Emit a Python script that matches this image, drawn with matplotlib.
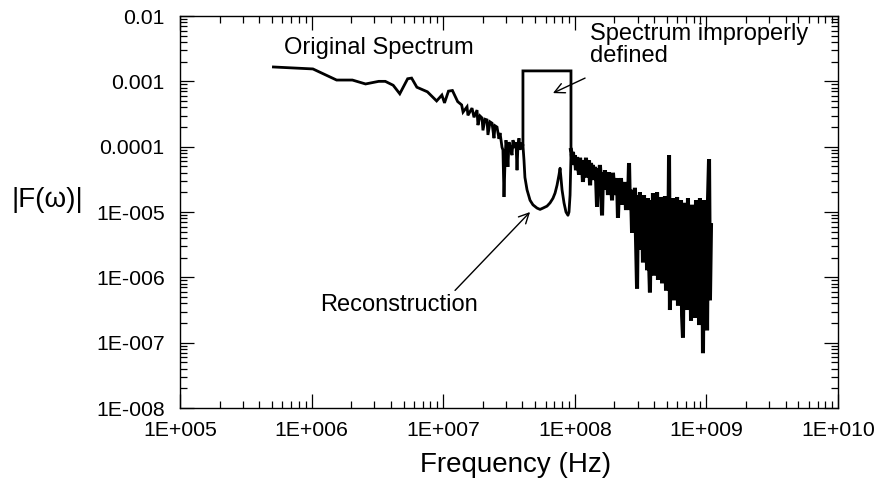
import matplotlib
matplotlib.use("Agg")
import matplotlib.pyplot as plt
import numpy as np

plt.rcParams['font.family'] = ['Liberation Sans', 'DejaVu Sans']

# Values, stored as log10(frequency / Hz) and log10(|F|)

# smooth low-frequency part and the noisy stretch below the band
low_logf = [5.71, 6.01, 6.19, 6.31, 6.41, 6.51, 6.56, 6.62, 6.67, 6.73, 6.76, 6.80,
            6.88, 6.95, 6.99, 7.01, 7.04, 7.07, 7.11, 7.14,
            7.151, 7.181, 7.188, 7.219, 7.234, 7.257, 7.264, 7.280, 7.295, 7.302,
            7.318, 7.333, 7.340, 7.356, 7.371, 7.386, 7.394, 7.409, 7.424, 7.432,
            7.447, 7.454, 7.462, 7.470, 7.477, 7.485, 7.492, 7.500, 7.515, 7.523,
            7.530, 7.546, 7.553, 7.561, 7.568, 7.576, 7.584, 7.591, 7.599, 7.606]
low_logm = [-2.78, -2.81, -2.98, -2.98, -3.04, -3.00, -3.00, -3.06, -3.19, -2.96, -2.95, -3.09,
            -3.16, -3.30, -3.21, -3.33, -3.15, -3.14, -3.31, -3.36,
            -3.47, -3.39, -3.52, -3.41, -3.55, -3.44, -3.67, -3.53, -3.56, -3.75,
            -3.58, -3.59, -3.82, -3.62, -3.64, -3.87, -3.68, -3.70, -3.88, -3.79,
            -4.01, -4.05, -4.77, -4.21, -3.90, -4.05, -4.31, -3.93, -4.05, -4.13,
            -3.90, -4.02, -3.93, -4.36, -3.98, -3.87, -4.05, -3.94, -4.02, -3.98]

# band where the spectrum is improperly defined (flat top)
band_logf = [7.606, 7.606, 7.971, 7.971]
band_logm = [-3.98, -2.84, -2.84, -4.05]

# noisy part above the band
high_logf = [7.971, 7.979, 7.986, 7.994, 8.001, 8.009, 8.017, 8.024, 8.032, 8.040,
             8.047, 8.055, 8.062, 8.070, 8.078, 8.085, 8.093, 8.100, 8.108, 8.116,
             8.123, 8.131, 8.138, 8.146, 8.153, 8.161, 8.169, 8.176, 8.184, 8.191,
             8.199, 8.207, 8.214, 8.222, 8.229, 8.237, 8.245, 8.252, 8.260, 8.267,
             8.275, 8.283, 8.290, 8.298, 8.305, 8.313, 8.321, 8.328, 8.336, 8.343,
             8.351, 8.359, 8.366, 8.374, 8.381, 8.389, 8.397, 8.404, 8.412, 8.419,
             8.427, 8.435, 8.442, 8.450, 8.457, 8.465, 8.473, 8.480, 8.488, 8.495,
             8.503, 8.511, 8.518, 8.526, 8.533, 8.541, 8.549, 8.556, 8.564, 8.571,
             8.579, 8.587, 8.594, 8.602, 8.609, 8.617, 8.625, 8.632, 8.640, 8.647,
             8.655, 8.663, 8.670, 8.678, 8.685, 8.693, 8.701, 8.708, 8.716, 8.723,
             8.731, 8.739, 8.746, 8.754, 8.761, 8.769, 8.777, 8.784, 8.792, 8.799,
             8.807, 8.815, 8.822, 8.830, 8.837, 8.845, 8.853, 8.860, 8.868, 8.875,
             8.883, 8.891, 8.898, 8.906, 8.913, 8.921, 8.929, 8.936, 8.944, 8.951,
             8.959, 8.967, 8.974, 8.982, 8.989, 8.997, 9.005, 9.012, 9.020, 9.027,
             9.035]
high_logm = [-4.05, -4.17, -4.08, -4.28, -4.13, -4.36, -4.16, -4.25, -4.43, -4.17,
             -4.33, -4.21, -4.54, -4.24, -4.36, -4.17, -4.47, -4.28, -4.21, -4.59,
             -4.25, -4.39, -4.28, -4.51, -4.31, -4.43, -4.92, -4.33, -4.48, -4.28,
             -4.59, -5.05, -4.39, -4.66, -4.36, -4.54, -4.43, -4.74, -4.39, -4.59,
             -4.47, -4.82, -4.40, -4.63, -4.51, -4.74, -4.48, -5.09, -4.54, -4.79,
             -4.48, -4.89, -4.59, -4.82, -4.54, -4.97, -4.63, -4.89, -4.25, -4.97,
             -4.66, -5.32, -4.70, -5.20, -4.63, -5.43, -6.17, -4.74, -5.58, -4.70,
             -5.51, -4.82, -5.77, -4.74, -5.66, -4.89, -5.89, -4.79, -5.74, -6.23,
             -4.82, -5.81, -4.71, -5.97, -4.82, -5.86, -4.70, -6.04, -4.85, -5.92,
             -4.77, -6.09, -4.89, -5.97, -4.76, -6.20, -4.82, -6.12, -4.13, -6.50,
             -4.89, -6.27, -4.79, -6.35, -4.97, -6.20, -4.77, -6.43, -4.89, -6.32,
             -4.82, -6.58, -6.92, -4.86, -6.35, -4.97, -6.50, -4.79, -6.43, -5.05,
             -6.66, -4.89, -6.55, -4.97, -6.62, -4.82, -6.43, -5.00, -6.73, -4.79,
             -6.50, -4.89, -7.16, -4.82, -6.66, -5.05, -6.81, -4.82, -4.19, -6.35,
             -5.20]

# reconstruction inside the band
recon_logf = [7.606, 7.614, 7.621, 7.637, 7.660, 7.682, 7.713, 7.736, 7.758, 7.789,
              7.812, 7.834, 7.850, 7.865, 7.880, 7.888, 7.895, 7.903, 7.918, 7.933,
              7.948, 7.956, 7.964, 7.971]
recon_logm = [-3.98, -4.21, -4.47, -4.66, -4.82, -4.89, -4.94, -4.96, -4.94, -4.91,
              -4.86, -4.79, -4.71, -4.59, -4.43, -4.33, -4.48, -4.66, -4.86, -5.00,
              -5.05, -5.00, -4.74, -4.13]

x_ticks = [1e5, 1e6, 1e7, 1e8, 1e9, 1e10]
x_labels = ['1E+005', '1E+006', '1E+007', '1E+008', '1E+009', '1E+010']
y_ticks = [1e-8, 1e-7, 1e-6, 1e-5, 1e-4, 1e-3, 1e-2]
y_labels = ['1E-008', '1E-007', '1E-006', '1E-005', '0.0001', '0.001', '0.01']

orig_f = 10 ** np.concatenate([low_logf, band_logf])
orig_m = 10 ** np.concatenate([low_logm, band_logm])
high_f = 10 ** np.array(high_logf)
high_m = 10 ** np.array(high_logm)
rec_f = 10 ** np.array(recon_logf)
rec_m = 10 ** np.array(recon_logm)

fig = plt.figure(figsize=(8.81, 4.93), dpi=100)
ax = fig.add_axes([0.2043, 0.1724, 0.7469, 0.7951])

ax.plot(orig_f, orig_m, color='black', lw=2.0, solid_joinstyle='miter')
# the dense FFT part above the band is drawn heavier so it reads as a filled band
ax.plot(high_f, high_m, color='black', lw=2.9, solid_joinstyle='miter')
ax.plot(rec_f, rec_m, color='black', lw=2.0)

ax.set_xscale('log')
ax.set_yscale('log')
ax.set_xlim(1e5, 1e10)
ax.set_ylim(1e-8, 1e-2)
ax.set_xticks(x_ticks, x_labels)
ax.set_yticks(y_ticks, y_labels)
ax.tick_params(which='both', direction='in', top=True, right=True, width=0.9)
ax.tick_params(which='major', length=10, labelsize=15.3)
ax.tick_params(which='minor', length=5)
ax.tick_params(axis='y', pad=11)
ax.tick_params(axis='x', pad=9)
for s in ax.spines.values():
    s.set_linewidth(1.0)

ax.set_xlabel('Frequency (Hz)', fontsize=20)
ax.xaxis.set_label_coords(0.51, -0.112)
fig.text(47 / 881, 1 - 200 / 493, '|F(\u03c9)|', fontsize=20, ha='center', va='center')

# annotations
ax.text(10 ** 5.79, 10 ** -2.49, 'Original Spectrum', fontsize=17, va='center')
ax.text(10 ** 8.116, 10 ** -2.44, 'Spectrum improperly\ndefined', fontsize=17,
        va='center', linespacing=1.02)
ax.text(10 ** 6.064, 10 ** -6.43, 'Reconstruction', fontsize=17, va='center')

arrow = dict(arrowstyle='->', color='black', lw=1.0, shrinkA=0, shrinkB=0,
             mutation_scale=18)
ax.annotate('', xy=(10 ** 7.834, 10 ** -3.18), xytext=(10 ** 8.078, 10 ** -2.95),
            arrowprops=arrow)
ax.annotate('', xy=(10 ** 7.660, 10 ** -5.00), xytext=(10 ** 7.090, 10 ** -6.20),
            arrowprops=arrow)

fig.savefig('out.png', dpi=100)
